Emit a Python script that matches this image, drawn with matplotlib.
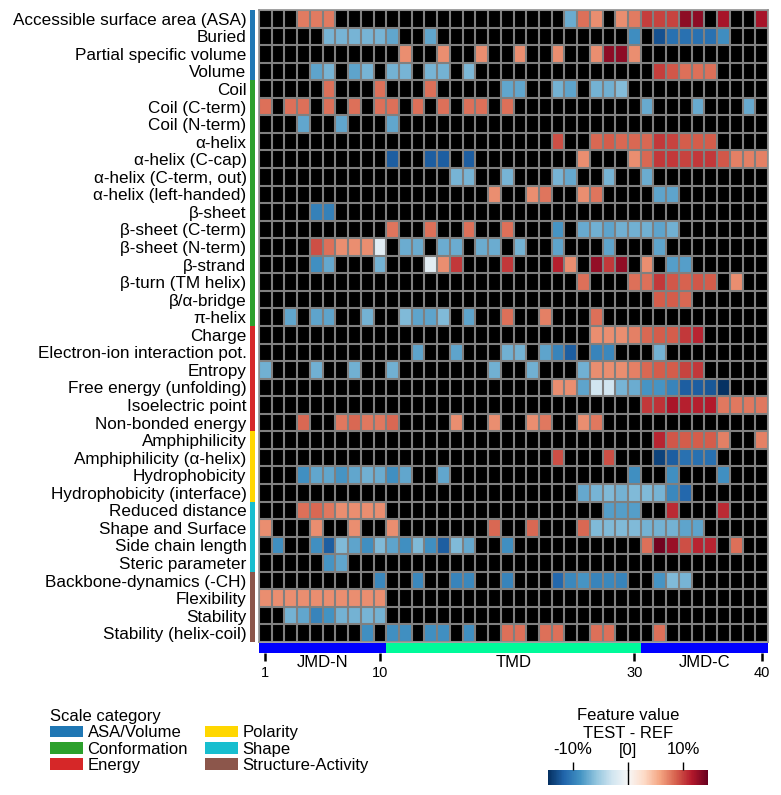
import numpy as np
import matplotlib.pyplot as plt
from matplotlib.patches import Patch
from matplotlib.cm import ScalarMappable
from matplotlib.colors import Normalize

plt.rcParams['font.family'] = ['Liberation Sans', 'DejaVu Sans']
plt.rcParams['font.size'] = 12

n_pos = 40
region_names = ["JMD-N", "TMD", "JMD-C"]
region_bounds = [(1, 10), (11, 30), (31, 40)]
region_colors = ["#0000ff", "#00fa9a", "#0000ff"]
xtick_pos = [1, 10, 30, 40]

category_names = ["ASA/Volume", "Conformation", "Energy", "Polarity", "Shape", "Structure-Activity"]
category_colors = ["#1f77b4", "#2ca02c", "#d62728", "#ffd700", "#17becf", "#8c564b"]
category_sizes = [4, 14, 6, 4, 4, 4]

scale_labels = [
    "Accessible surface area (ASA)", "Buried", "Partial specific volume", "Volume",
    "Coil", "Coil (C-term)", "Coil (N-term)", "α-helix", "α-helix (C-cap)",
    "α-helix (C-term, out)", "α-helix (left-handed)", "β-sheet", "β-sheet (C-term)",
    "β-sheet (N-term)", "β-strand", "β-turn (TM helix)", "β/α-bridge", "π-helix",
    "Charge", "Electron-ion interaction pot.", "Entropy", "Free energy (unfolding)",
    "Isoelectric point", "Non-bonded energy",
    "Amphiphilicity", "Amphiphilicity (α-helix)", "Hydrophobicity", "Hydrophobicity (interface)",
    "Reduced distance", "Shape and Surface", "Side chain length", "Steric parameter",
    "Backbone-dynamics (-CH)", "Flexibility", "Stability", "Stability (helix-coil)",
]

# (position, TEST - REF in %) for each scale, one list per row
asa_volume_cells = [
    [(4, 7.5), (5, 7.5), (6, 7.5), (25, -7.2), (26, 8), (27, 6.7), (29, 6.7), (30, 7.5), (31, 10),
     (32, 9.8), (33, 9.8), (34, 13), (35, 13), (37, 12), (40, 12)],
    [(6, -6.7), (7, -6.7), (8, -6.7), (9, -6.7), (10, -6.7), (11, -7.5), (14, -7.5), (30, -9),
     (32, -12.6), (33, -10.8), (34, -10.8), (35, -10.8), (36, -10.8), (37, -9)],
    [(12, 6.7), (15, 6.7), (18, 6.7), (21, 6.7), (24, 6.7), (27, 6.7), (28, 13), (29, 13), (30, 6.7)],
    [(5, -7.6), (6, -6.7), (8, -7.6), (9, -6.7), (11, -6.9), (12, -6.7), (14, -6.7), (15, -6.9),
     (17, -6.5), (32, 10), (33, 9), (34, 8), (35, 8), (36, 8)],
]

conformation_cells = [
    [(6, 8), (10, 8), (14, 8), (20, -7.5), (21, -7.5), (24, -6.8), (25, -7.6), (27, -6.8), (28, -7), (29, -6.3)],
    [(1, 8), (3, 8), (4, 8), (6, 8), (8, 8), (10, 8), (11, 8), (13, 8), (15, 8), (17, 8), (18, 8), (20, 8),
     (31, -7.3), (35, -7.3), (39, -7.3)],
    [(4, -7.5), (7, -7.5), (11, -7.5)],
    [(24, 9.3), (27, 8.3), (28, 8.8), (29, 8.3), (30, 8.3), (31, 8.3), (32, 10.3), (33, 9.8), (34, 8.8),
     (35, 8.8), (36, 8.8)],
    [(11, -12), (14, -12), (15, -12), (17, -12), (26, 6.7), (30, 6.7), (31, 8.3), (32, 10.3), (33, 10.3),
     (34, 9.8), (35, 10.3), (36, 10.3), (37, 9), (38, 7.3), (39, 7.3), (40, 7.3)],
    [(16, -6.7), (17, -6.7), (20, -6.7), (24, -6.7), (25, -7.4), (28, -6.7), (31, -7.2)],
    [(19, 6.7), (22, 6.7), (23, 7.8), (26, 6.7), (27, 7.8), (32, -7.6), (33, -7.6)],
    [(5, -9.8), (6, -9.8)],
    [(11, 7.8), (14, 8), (17, 8), (20, 8), (24, -8.5), (26, -7.3), (27, -7), (28, -7.6), (29, -7),
     (30, -7), (31, -7), (32, -7.6), (33, -7)],
    [(5, 9.3), (6, 8), (7, 6.7), (8, 6.7), (9, 6.7), (10, -1.5), (12, -7.2), (13, -7.2), (15, -7.2),
     (16, -7.2), (18, -7.2), (19, -7.2), (21, -6.8), (24, -7.6), (28, -7.6), (32, -7.6)],
    [(5, -8.9), (6, -7.4), (10, -6.8), (14, -1.5), (15, 6.7), (16, 10.3), (20, 10.3), (24, 11.3), (25, 6.7),
     (27, 12.8), (28, 10.3), (29, 12.9), (31, 6.7), (33, -8), (34, -8)],
    [(26, 8), (30, 8), (31, 8), (32, 10.3), (33, 9), (34, 8.5), (35, 9), (36, 8.8), (38, 6.7)],
    [(32, 8.8), (33, 8.8), (34, 8.3)],
    [(3, -7.5), (5, -7.6), (6, -7.6), (9, -6.8), (12, -6.4), (13, -7.6), (14, -7.6), (15, -6.4), (17, -7.6),
     (20, 8), (23, 7.3), (27, 8)],
]

energy_cells = [
    [(27, 6.7), (28, 6.7), (29, 6.7), (30, 7.3), (31, 8.3), (32, 8.8), (33, 8.8), (34, 10.3), (35, 11)],
    [(13, -7.6), (16, -7.6), (20, -7), (21, -6.8), (23, -7.6), (24, -9.6), (25, -12), (27, -9.6), (28, -9.4),
     (32, -6.8)],
    [(1, -7), (5, -7), (8, -7), (11, -7), (19, -7), (22, -7), (26, -7), (27, 6.7), (28, 6.7), (29, 6.7),
     (30, 7.3), (31, 8.3), (32, 8.8), (33, 8.8), (34, 9.8), (35, 10.3)],
    [(24, 6.7), (25, 6.7), (26, -7.6), (27, -2.9), (28, -2.9), (29, -6.7), (30, -7.2), (31, -8.5), (32, -8.5),
     (33, -9.6), (34, -12), (35, -12), (36, -12.3), (37, -14.3)],
    [(31, 10.3), (32, 10.5), (33, 11.8), (34, 11.3), (35, 11.3), (36, 11.5), (37, 7.6), (38, 7.6), (39, 7.6),
     (40, 7.6)],
    [(4, 8.3), (7, 7.6), (8, 8.3), (9, 7.6), (10, 7.6), (11, 8.3), (16, 6.7), (19, 6.7), (22, 6.7), (23, 7.6),
     (26, 6.7), (27, 7.6)],
]

polarity_cells = [
    [(32, 11), (33, 9), (34, 8.8), (35, 8.8), (36, 8.8), (37, 7.3), (40, 7.3)],
    [(24, 9.3), (28, 9.3), (32, -13.4), (33, -12), (34, -10.8), (35, -10.8), (36, -10.8)],
    [(4, -8.9), (5, -7.5), (6, -7.5), (7, -8.5), (8, -7.5), (9, -7), (10, -7.2), (11, -8.9), (12, -7.5),
     (15, -7.5), (30, -8.9), (33, -8.9), (37, -8.9)],
    [(26, -7.4), (27, -6.7), (28, -6.4), (29, -6.9), (30, -6.4), (31, -6.4), (32, -6.7), (33, -9.3), (34, -11.4)],
]

shape_cells = [
    [(4, 8), (5, 8.3), (6, 7.6), (7, 6.7), (8, 6.7), (9, 6.7), (10, 6.7), (28, -8), (29, -8), (30, -8),
     (33, 10.8), (37, 10.8)],
    [(1, 6.7), (5, 6.7), (8, 6.7), (11, 6.7), (19, 8.3), (22, 8.3), (26, 8.3), (27, -6.4), (28, -6.4),
     (29, -6.4), (30, -6.4), (31, -6.9), (32, -6.9), (33, -6.9), (34, -7.6), (35, -7.6)],
    [(2, -8.9), (5, -8.9), (6, -12), (7, -6.4), (8, -7.6), (9, -8.9), (10, -6.4), (11, -7.6), (12, -8.9),
     (13, -6.4), (14, -8.9), (15, -12), (16, -6.4), (17, -7.4), (20, -8.9), (31, 8), (32, 14), (33, 12.5),
     (34, 9.3), (35, 11), (36, 11), (38, 8)],
    [(6, -8.5), (7, -7.5)],
]

structure_cells = [
    [(10, -9.3), (13, -9.3), (16, -9.6), (17, -9.3), (20, -9.6), (24, -11.4), (25, -9.3), (26, -8.5),
     (27, -9.6), (28, -9.3), (29, -9.6), (32, -8.5), (33, -6.4), (34, -6.7)],
    [(1, 6.7), (2, 6.7), (3, 6.7), (4, 6.7), (5, 6.7), (6, 6.7), (7, 6.7), (8, 6.7), (9, 6.7), (10, 6.7)],
    [(3, -6.9), (4, -7.5), (5, -9.6), (6, -8.7), (7, -6.9), (8, -6.9), (9, -6.7), (10, -6.9)],
    [(9, -8.9), (11, -8.9), (12, -8.9), (14, -8.9), (15, -8.9), (17, -8.9), (20, 8), (21, 8), (23, 8),
     (24, 8), (27, 8), (28, 8), (32, 8)],
]

cells = asa_volume_cells + conformation_cells + energy_cells + polarity_cells + shape_cells + structure_cells
n_rows = len(scale_labels)
data = np.full((n_rows, n_pos), np.nan)
for i, row in enumerate(cells):
    for pos, val in row:
        data[i, pos - 1] = val

vlim = 14.5
W, H = 781, 795
fig = plt.figure(figsize=(W / 100, H / 100), dpi=100)

# heatmap
ax = fig.add_axes([259 / W, 1 - 642 / H, 509 / W, 632 / H])
ax.set_facecolor("black")
ax.imshow(np.ma.masked_invalid(data), cmap="RdBu_r", vmin=-vlim, vmax=vlim, aspect="auto",
          interpolation="nearest", extent=(0.5, n_pos + 0.5, n_rows + 0.5, 0.5))
ax.set_xticks([])
ax.set_yticks(np.arange(1, n_rows + 1))
ax.set_yticklabels(scale_labels, fontsize=12.3)
ax.set_xticks(np.arange(0.5, n_pos + 1), minor=True)
ax.set_yticks(np.arange(0.5, n_rows + 1), minor=True)
ax.grid(which="minor", color="#808080", lw=1.5)
ax.tick_params(which="both", length=0)
ax.tick_params(axis="y", pad=9)
for s in ax.spines.values():
    s.set_color("#909090")
    s.set_linewidth(1.2)

# category strip
cat_ax = fig.add_axes([250 / W, 1 - 642 / H, 5 / W, 632 / H])
start = 0.5
for size, color in zip(category_sizes, category_colors):
    cat_ax.axhspan(start, start + size, color=color, lw=0)
    start += size
cat_ax.set_ylim(n_rows + 0.5, 0.5)
cat_ax.axis("off")

# region strip
reg_ax = fig.add_axes([259 / W, 1 - 652.5 / H, 509 / W, 10 / H])
for (a, b), color, name in zip(region_bounds, region_colors, region_names):
    reg_ax.axvspan(a - 0.5, b + 0.5, color=color, lw=0)
    reg_ax.text((a + b) / 2, -0.98, name, ha="center", va="center", fontsize=12,
                transform=reg_ax.get_xaxis_transform())
reg_ax.set_xlim(0.5, n_pos + 0.5)
reg_ax.set_ylim(0, 1)
reg_ax.set_yticks([])
reg_ax.set_xticks(xtick_pos)
reg_ax.tick_params(axis="x", length=6, width=1.8, pad=3.5, labelsize=10.5)
for s in reg_ax.spines.values():
    s.set_visible(False)

# legend
handles = [Patch(facecolor=c, label=n) for n, c in zip(category_names, category_colors)]
fig.legend(handles=handles, loc="upper left", bbox_to_anchor=(50 / W, 1 - 709 / H), ncol=2,
           title="Scale category", frameon=False, fontsize=12, title_fontsize=12,
           handlelength=2.0, handleheight=0.7, handletextpad=0.25, columnspacing=1.0,
           labelspacing=0.08, borderaxespad=0, borderpad=0, alignment="left")

# colorbar
cax = fig.add_axes([548 / W, 1 - 785 / H, 160 / W, 15 / H])
sm = ScalarMappable(norm=Normalize(-vlim, vlim), cmap="RdBu_r")
cb = fig.colorbar(sm, cax=cax, orientation="horizontal", ticks=[-10, 0, 10])
cb.set_ticklabels(["-10%", "[0]", "10%"])
cb.outline.set_visible(False)
cax.xaxis.set_ticks_position("top")
cax.tick_params(length=6, width=1, pad=3, labelsize=12)
cax.axvline(0, color="black", lw=1)
fig.text(628 / W, 1 - 724 / H, "Feature value\nTEST - REF", ha="center", va="center",
         fontsize=12, linespacing=1.25)

fig.savefig("out.png", dpi=100)
